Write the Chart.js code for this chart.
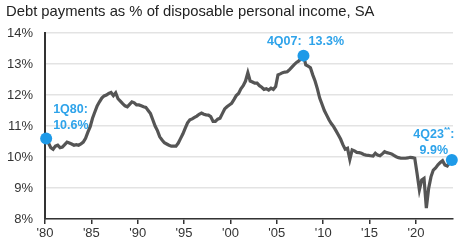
<!DOCTYPE html>
<html lang="en">
<head>
  <meta charset="UTF-8">
  <title>Debt payments as % of disposable personal income</title>
  <script src="https://cdn.jsdelivr.net/npm/chart.js"></script>
  <style>
    html, body { margin: 0; padding: 0; background: #ffffff; }
    .wrap { position: relative; width: 459px; height: 243px; }
    .title {
      position: absolute; left: 6px; top: 3px;
      font-family: 'Liberation Sans', Arial, sans-serif;
      font-size: 14.8px; color: #222; white-space: nowrap;
    }
    canvas { position: absolute; left: 0; top: 0; }
  </style>
</head>
<body>
  <div class="wrap">
    <canvas id="dsr" width="459" height="243"></canvas>
    <div class="title">Debt payments as % of disposable personal income, SA</div>
  </div>

  <script>
    // Quarterly series, 1Q80 .. 4Q23
    const startYear = 1980;
    const debtRatio = [
      10.60, 10.45, 10.30, 10.25,   // 1980
      10.35, 10.38, 10.30, 10.32,   // 1981
      10.40, 10.48, 10.45, 10.42,   // 1982
      10.38, 10.40, 10.38, 10.42,   // 1983
      10.48, 10.60, 10.80, 10.98,   // 1984
      11.25, 11.45, 11.65, 11.78,   // 1985
      11.90, 11.97, 12.00, 12.05,   // 1986
      12.08, 11.98, 12.07, 11.88,   // 1987
      11.80, 11.72, 11.65, 11.62,   // 1988
      11.70, 11.78, 11.75, 11.68,   // 1989
      11.68, 11.65, 11.62, 11.60,   // 1990
      11.50, 11.40, 11.20, 11.00,   // 1991
      10.85, 10.65, 10.55, 10.46,   // 1992
      10.42, 10.38, 10.35, 10.35,   // 1993
      10.35, 10.45, 10.60, 10.75,   // 1994
      10.93, 11.10, 11.20, 11.23,   // 1995
      11.28, 11.32, 11.38, 11.42,   // 1996
      11.38, 11.36, 11.35, 11.30,   // 1997
      11.15, 11.15, 11.22, 11.25,   // 1998
      11.40, 11.55, 11.62, 11.68,   // 1999
      11.73, 11.85, 11.98, 12.05,   // 2000
      12.20, 12.30, 12.45, 12.72,   // 2001
      12.45, 12.42, 12.38, 12.38,   // 2002
      12.30, 12.25, 12.18, 12.20,   // 2003
      12.16, 12.22, 12.18, 12.27,   // 2004
      12.65, 12.68, 12.72, 12.74,   // 2005
      12.75, 12.82, 12.90, 12.98,   // 2006
      13.05, 13.10, 13.18, 13.27,   // 2007
      12.97, 12.93, 12.88, 12.65,   // 2008
      12.45, 12.20, 11.90, 11.70,   // 2009
      11.50, 11.35, 11.20, 11.08,   // 2010
      10.98, 10.85, 10.72, 10.58,   // 2011
      10.40, 10.25, 10.28, 9.92,    // 2012
      10.23, 10.20, 10.15, 10.14,   // 2013
      10.12, 10.08, 10.06, 10.05,   // 2014
      10.04, 10.03, 10.12, 10.06,   // 2015
      10.04, 10.10, 10.17, 10.14,   // 2016
      10.12, 10.10, 10.05, 10.01,   // 2017
      9.98, 9.96, 9.96, 9.96,       // 2018
      9.97, 9.99, 9.98, 9.96,       // 2019
      9.47, 8.94, 9.26, 9.31,       // 2020
      8.35, 8.99, 9.36, 9.58,       // 2021
      9.65, 9.75, 9.82, 9.88,       // 2022
      9.74, 9.71, 9.82, 9.90        // 2023
    ];

    const xTickYears = [1980, 1985, 1990, 1995, 2000, 2005, 2010, 2015, 2020];
    const xTickLabels = ["'80", "'85", "'90", "'95", "'00", "'05", "'10", "'15", "'20"];
    const yTicks = [8, 9, 10, 11, 12, 13, 14];

    // highlighted quarters and their callout text
    const callouts = [
      { index: 0,   lines: ['1Q80:', '10.6%'] },
      { index: 111, lines: ['4Q07:  13.3%'] },
      { index: 175, lines: ['4Q23**:', '9.9%'] }
    ];
    const highlighted = callouts.map(c => c.index);

    // each quarter plotted at its midpoint
    const points = debtRatio.map((v, i) => ({ x: startYear + (i + 0.5) / 4, y: v }));

    const blue = '#1e9ae8';
    const labelFont = "bold 12.5px 'Liberation Sans', Arial, sans-serif";
    const starFont = "bold 8px 'Liberation Sans', Arial, sans-serif";

    const calloutPlugin = {
      id: 'callouts',
      afterDatasetsDraw(chart) {
        const ctx = chart.ctx;
        const meta = chart.getDatasetMeta(0);
        ctx.save();
        ctx.fillStyle = '#2ea3ea';
        ctx.font = labelFont;
        ctx.textBaseline = 'middle';

        // 1Q80
        let p = meta.data[callouts[0].index];
        ctx.textAlign = 'left';
        ctx.fillText(callouts[0].lines[0], p.x + 7, p.y - 29);
        ctx.fillText(callouts[0].lines[1], p.x + 7, p.y - 13);

        // 4Q07
        p = meta.data[callouts[1].index];
        ctx.textAlign = 'center';
        ctx.fillText(callouts[1].lines[0], p.x + 2, p.y - 14);

        // 4Q23 (asterisks raised and smaller)
        p = meta.data[callouts[2].index];
        const head = '4Q23', stars = '**', tail = ':';
        ctx.textAlign = 'left';
        const wHead = ctx.measureText(head).width;
        const wTail = ctx.measureText(tail).width;
        ctx.font = starFont;
        const wStars = ctx.measureText(stars).width;
        const total = wHead + wStars + wTail;
        const x0 = Math.min(p.x - 18 - total / 2, 458 - total);
        const y0 = p.y - 26;
        ctx.font = labelFont;
        ctx.fillText(head, x0, y0);
        ctx.font = starFont;
        ctx.fillText(stars, x0 + wHead, y0 - 4);
        ctx.font = labelFont;
        ctx.fillText(tail, x0 + wHead + wStars, y0);
        ctx.textAlign = 'center';
        ctx.fillText(callouts[2].lines[1], x0 + total / 2, p.y - 10);
        ctx.restore();
      }
    };

    new Chart(document.getElementById('dsr'), {
      type: 'line',
      data: {
        datasets: [{
          data: points,
          borderColor: '#555555',
          borderWidth: 3.2,
          tension: 0,
          pointRadius: ctx => highlighted.includes(ctx.dataIndex) ? 6 : 0,
          pointHoverRadius: 0,
          pointBackgroundColor: blue,
          pointBorderColor: blue,
          pointBorderWidth: 0,
          clip: false
        }]
      },
      options: {
        responsive: false,
        animation: false,
        events: [],
        layout: { padding: { top: 33, right: 2, left: 0, bottom: 0 } },
        plugins: {
          legend: { display: false },
          title: { display: false },
          tooltip: { enabled: false }
        },
        scales: {
          x: {
            type: 'linear',
            min: 1980,
            max: 2024,
            afterBuildTicks: scale => {
              scale.ticks = xTickYears.map(v => ({ value: v }));
            },
            afterFit: scale => { scale.height = 24; },
            ticks: {
              callback: (v) => xTickLabels[xTickYears.indexOf(v)],
              color: '#333',
              font: { family: "'Liberation Sans', Arial, sans-serif", size: 13 },
              padding: 2,
              maxRotation: 0,
              autoSkip: false
            },
            grid: {
              drawOnChartArea: false,
              drawTicks: true,
              tickLength: 5,
              color: '#333',
              lineWidth: 1.5
            },
            border: { display: true, color: '#333', width: 1.5 }
          },
          y: {
            min: 8,
            max: 14,
            afterBuildTicks: scale => {
              scale.ticks = yTicks.map(v => ({ value: v }));
            },
            afterFit: scale => { scale.width = 45; },
            ticks: {
              callback: v => v + '%',
              color: '#333',
              font: { family: "'Liberation Sans', Arial, sans-serif", size: 13 },
              padding: 12
            },
            grid: {
              drawTicks: false,
              color: '#e3e3e3',
              lineWidth: 1.5
            },
            border: { display: true, color: '#333', width: 2 }
          }
        }
      },
      plugins: [calloutPlugin]
    });
  </script>
</body>
</html>
